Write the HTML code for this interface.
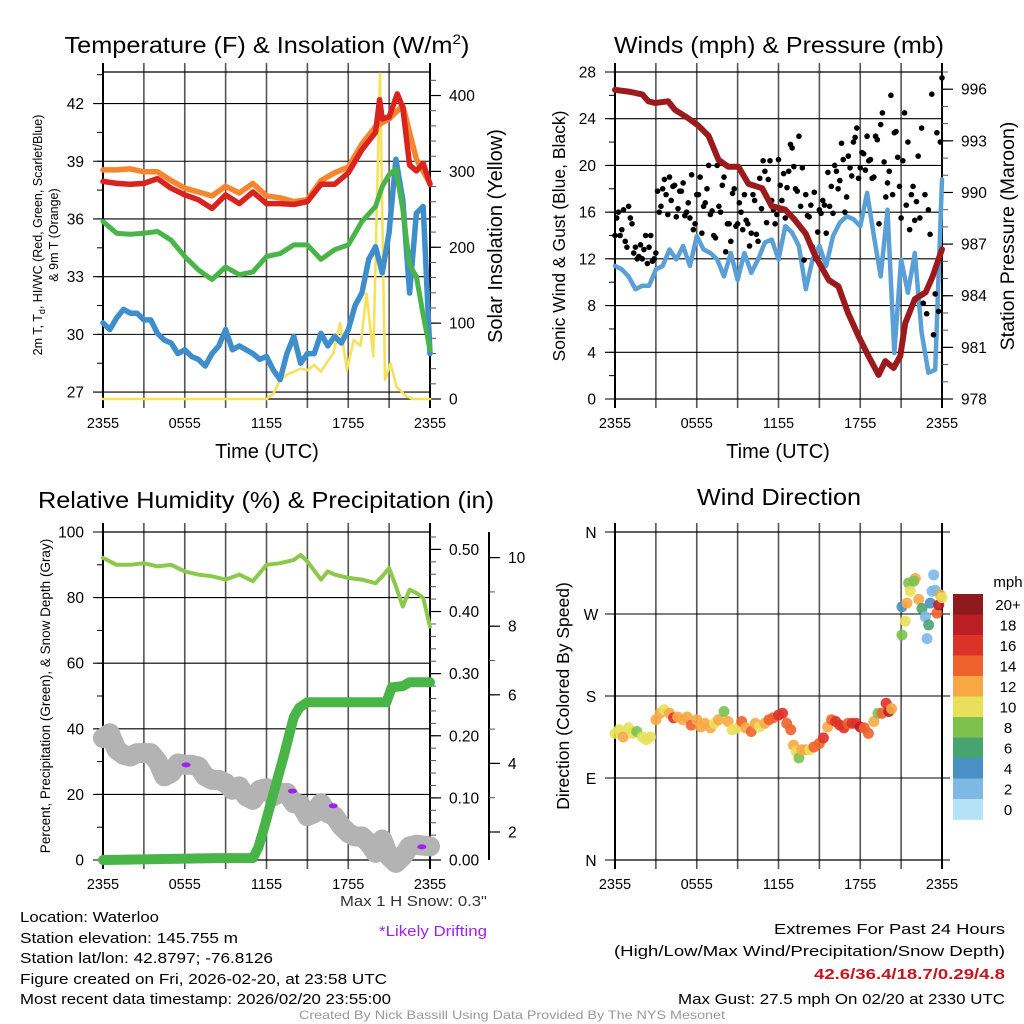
<!DOCTYPE html>
<html><head><meta charset="utf-8"><style>
html,body{margin:0;padding:0;background:#fff;}
svg{display:block;font-family:"Liberation Sans",sans-serif;}
</style></head><body>
<svg id="fig" width="1024" height="1024" viewBox="0 0 1024 1024" xmlns="http://www.w3.org/2000/svg">
<rect width="1024" height="1024" fill="#fff"/>
<g id="layer"></g>
<text x="267" y="53" font-size="23" text-anchor="middle" textLength="405" lengthAdjust="spacingAndGlyphs">Temperature (F) &amp; Insolation (W/m<tspan font-size="14" dy="-9">2</tspan><tspan dy="9">)</tspan></text>
<text x="779" y="53" font-size="23" text-anchor="middle" textLength="330" lengthAdjust="spacingAndGlyphs">Winds (mph) &amp; Pressure (mb)</text>
<text x="266" y="508" font-size="23" text-anchor="middle" textLength="456" lengthAdjust="spacingAndGlyphs">Relative Humidity (%) &amp; Precipitation (in)</text>
<text x="779" y="505" font-size="23" text-anchor="middle" textLength="164" lengthAdjust="spacingAndGlyphs">Wind Direction</text>
<text x="267" y="458" font-size="20" text-anchor="middle">Time (UTC)</text>
<text x="778" y="458" font-size="20" text-anchor="middle">Time (UTC)</text>
<text transform="translate(42,235) rotate(-90)" font-size="12.5" text-anchor="middle">2m T, T<tspan font-size="9" dy="3">d</tspan><tspan dy="-3">, HI/WC (Red, Green, Scarlet/Blue)</tspan></text>
<text transform="translate(58,235) rotate(-90)" font-size="12.5" text-anchor="middle">&amp; 9m T (Orange)</text>
<text transform="translate(502,236) rotate(-90)" font-size="20" text-anchor="middle">Solar Insolation (Yellow)</text>
<text transform="translate(565,236) rotate(-90)" font-size="17.5" text-anchor="middle">Sonic Wind &amp; Gust (Blue, Black)</text>
<text transform="translate(1014,236) rotate(-90)" font-size="19.5" text-anchor="middle">Station Pressure (Maroon)</text>
<text transform="translate(50,696) rotate(-90)" font-size="13.5" text-anchor="middle">Percent, Precipitation (Green), &amp; Snow Depth (Gray)</text>
<text transform="translate(569,696) rotate(-90)" font-size="17.5" text-anchor="middle">Direction (Colored By Speed)</text>
<text x="1008" y="587" font-size="15" text-anchor="middle">mph</text>
<g font-size="15">
<text x="20" y="922" textLength="139" lengthAdjust="spacingAndGlyphs">Location: Waterloo</text>
<text x="20" y="943" textLength="218" lengthAdjust="spacingAndGlyphs">Station elevation: 145.755 m</text>
<text x="20" y="963" textLength="253" lengthAdjust="spacingAndGlyphs">Station lat/lon: 42.8797; -76.8126</text>
<text x="20" y="984" textLength="367" lengthAdjust="spacingAndGlyphs">Figure created on Fri, 2026-02-20, at 23:58 UTC</text>
<text x="20" y="1004" textLength="371" lengthAdjust="spacingAndGlyphs">Most recent data timestamp: 2026/02/20 23:55:00</text>
</g>
<text x="487" y="906" font-size="15" fill="#333" text-anchor="end" textLength="147" lengthAdjust="spacingAndGlyphs">Max 1 H Snow: 0.3"</text>
<text x="487" y="936" font-size="15" fill="#a020f0" text-anchor="end" textLength="108" lengthAdjust="spacingAndGlyphs">*Likely Drifting</text>
<g font-size="15" text-anchor="end">
<text x="1005" y="934" textLength="231" lengthAdjust="spacingAndGlyphs">Extremes For Past 24 Hours</text>
<text x="1005" y="956" textLength="391" lengthAdjust="spacingAndGlyphs">(High/Low/Max Wind/Precipitation/Snow Depth)</text>
<text x="1005" y="979" font-weight="bold" fill="#c8141e" textLength="191" lengthAdjust="spacingAndGlyphs">42.6/36.4/18.7/0.29/4.8</text>
<text x="1005" y="1004" textLength="327" lengthAdjust="spacingAndGlyphs">Max Gust: 27.5 mph On 02/20 at 2330 UTC</text>
</g>
<text x="512" y="1019" font-size="12" fill="#999" text-anchor="middle" textLength="426" lengthAdjust="spacingAndGlyphs">Created By Nick Bassill Using Data Provided By The NYS Mesonet</text>
</svg>
<script>
// ---------- data ----------
const hourTimes=[0,1,2,3,4,5,6,7,8,9,10,11,12,13,14,15,16,17,18,19,20,21,22,23,24];
const temp9m=[38.55,38.55,38.6,38.45,38.45,38.0,37.6,37.4,37.2,37.7,37.35,37.85,37.2,37.1,36.9,37.0,38.0,38.4,38.7,39.9,40.8,41.2,41.9,39.1,37.85];
const tempTimes=[0,1,2,3,4,5,6,7,8,9,10,11,12,13,14,15,16,17,18,19,20,20.3,20.5,21,21.6,22,22.5,23,23.5,24];
const temp2m=[37.95,37.85,37.8,37.85,38.1,37.6,37.25,37.0,36.55,37.25,36.8,37.4,36.8,36.8,36.75,36.9,37.8,37.8,38.4,39.6,40.5,42.2,41.2,41.3,42.5,41.8,38.8,38.5,38.9,37.8];
const dewTimes=[0,1,2,3,4,5,6,7,8,9,10,11,12,13,14,15,16,17,18,19,20,20.5,21,21.5,22,22.5,23,23.5,24];
const dewpoint=[35.87,35.26,35.2,35.26,35.35,34.9,34.05,33.35,32.85,33.5,33.1,33.25,34.05,34.2,34.65,34.65,33.9,34.4,34.65,35.87,36.65,37.7,38.3,38.6,36.5,33.6,33.0,31.0,29.2];
const halfTimes=[0,0.5,1,1.5,2,2.5,3,3.5,4,4.5,5,5.5,6,6.5,7,7.5,8,8.5,9,9.5,10,10.5,11,11.5,12,12.5,13,13.5,14,14.5,15,15.5,16,16.5,17,17.5,18,18.5,19,19.5,20,20.5,21,21.5,22,22.5,23,23.5,24];
const windChill=[30.6,30.25,30.85,31.3,31.1,31.1,30.75,30.75,30.05,29.7,29.55,29.0,29.2,28.85,28.7,28.35,29.0,29.4,30.25,29.2,29.4,29.2,29.0,28.7,28.85,28.15,27.65,29.0,29.9,28.5,29.0,29.0,30.05,29.4,29.9,29.55,30.25,31.5,32.15,33.9,34.55,33.2,35.3,39.1,37.0,32.15,36.3,36.65,29.0];
const solarTimes=[0,12,12.5,13,13.5,14,14.5,15,15.5,16,16.5,16.9,17.4,17.9,18.4,18.9,19.35,19.84,20.33,20.7,21.1,21.55,22.3,22.8,24];
const solar=[0,0,7,25,32,36,40,38,45,36,50,60,100,38,78,70,139,56,429,25,47,16,3,0,0];
const presTimes=[0,1,2,2.45,2.94,3.9,4.4,5.4,6.1,6.86,7.6,8.3,9.06,9.8,10.8,11.5,12.5,13.2,14,14.7,15.7,16.4,17.1,17.9,18.6,19.35,19.84,20.45,20.94,21.3,22,22.8,23.3,24];
const pressure=[995.96,995.86,995.7,995.3,995.2,995.3,994.8,994.3,993.9,993.3,991.9,991.5,991.5,990.5,990.25,989.2,989.0,988.4,987.6,986.3,984.9,984.55,983.0,981.6,980.5,979.4,980.2,979.8,980.5,982.4,983.8,984.2,985.1,986.7];
const sonicWind=[11.4,11.1,10.5,9.4,9.7,9.7,11.1,11.4,12.8,11.95,13.1,11.4,13.95,12.8,12.5,11.95,10.5,12.5,10.2,12.5,10.8,11.95,13.4,13.65,11.95,14.8,14.25,13.1,9.4,11.95,13.1,11.4,13.95,15.1,15.65,15.4,14.8,17.65,13.95,10.5,16.2,3.95,11.95,9.1,12.5,5.7,2.25,2.5,18.8];
const gustA=[14,16,14.5,13.5,16.5,15,13,12.2,12,14,13,11.8,12.5,
16,18,17.5,19,18.2,15.6,17.8,18.5,16,15.5,14.5,17.5,
19,16.5,18,15.8,14,20,16,19,15,13.5,18,15,
16,17.5,15,14.2,17,13.5,16.3,19.5,18.8,17,15,20.5,
17,15.5,19.5,21.5,18,22.5,19.8,17.5,15.6,13,12,16.2,
17,14.2,16.5,15.9,19.5,18.7,20.5,17.3,19.8,22,23.2,19.8,
21,22.5,20.5,19,22.2,23.5,20.3,18.5,26,22.8,20.7,15.5,
24.5,22,17.5,15.3,20.8,23.2,17.5,16.2,26.1,9,7.5,27.5];
const gustB=[15.5,14,16.2,13,15.5,12.5,12,13.2,12.8,11.6,14,12,
17.8,16.5,18.8,15.8,17,18.3,16.3,17.8,15.7,16.8,19.2,15,
17.5,14.2,16.8,20,16.1,13.8,16.5,18.3,12.6,15,17.6,14.8,
16.8,14.5,15.3,13.1,17.5,14.1,18.9,20.4,15.1,20.4,16.2,15.8,
18.3,19.3,18.1,21.8,19.9,17.8,16.5,11.9,15.7,16.6,17.7,14.3,
15.9,16.6,19.4,18.2,20,18,21.9,16,20.8,19.1,22.4,18.9,
21.1,19.6,20.4,18.9,22.5,15,24.5,17.3,19.5,17.5,22.9,18.2,
20.4,16.6,14.5,18.2,16.9,15.5,8.2,7.3,14.1,5.5,22.8,22];
const rhTimes=[0,1,2,3,4,5,6,7,8,9,10,11,12,13,14,14.5,15,16,16.5,17,18,19,20,20.5,21,21.5,22,22.5,23,23.5,24];
const relHum=[92.1,90,90,90.5,89.5,90,88,87,86.5,85.5,87,85,90,90.5,91.5,93,91,85.5,88,87,86,85.5,84.4,86.5,89,83.4,77.3,82.4,81.4,79.9,71.2];
const precipTimes=[0,8.3,11,11.4,11.8,12.3,12.8,13.3,13.7,14.0,14.4,15,20.8,21.2,22,22.5,24];
const precip=[0,0.003,0.003,0.02,0.05,0.09,0.13,0.17,0.205,0.23,0.245,0.254,0.254,0.278,0.28,0.286,0.286];
const snowDepth=[4.74,4.88,4.4,4.25,4.2,4.3,4.3,4.3,4.06,3.62,3.72,4.0,3.96,3.96,3.91,3.62,3.52,3.52,3.43,3.23,3.33,3.04,2.94,3.23,3.28,3.04,3.14,3.14,2.84,2.8,2.46,2.55,2.84,2.55,2.46,2.17,1.97,1.87,1.87,1.68,1.39,1.78,1.29,1.1,1.29,1.58,1.63,1.6,1.58];
const driftTimes=[6.1,13.9,16.9,23.4];
const driftPct=[29,21,16.5,4];
const dirTimes=[0,0.3,0.6,1,1.3,1.6,2,2.3,2.6,3,3.3,3.6,4,4.3,4.6,5,5.3,5.6,6,6.3,6.6,7,7.3,7.6,8,8.3,8.6,9,9.3,9.6,10,10.3,10.6,11,11.3,11.6,12,12.3,12.6,12.9,13.1,13.3,13.5,13.7,14,14.3,14.6,15,15.3,15.6,15.9,16.2,16.5,16.8,17.1,17.4,17.7,18,18.3,18.6,19,19.3,19.6,19.9,20.1,20.3,
21.06,21.06,21.3,21.43,21.55,21.67,22.04,21.92,22.29,22.53,22.78,23.02,22.9,23.14,23.27,23.39,23.51,23.63,23.76,23.88,24];
const dirDeg=[139,143,135,145,139,141,135,132,135,154,161,165,161,156,157,154,157,148,154,146,150,145,150,154,163,152,143,145,152,145,141,150,146,150,154,156,159,161,150,143,126,119,112,121,121,121,124,128,134,146,154,152,148,145,150,150,150,146,145,139,152,161,161,172,163,166,
278,247,262,282,304,295,309,306,286,276,267,258,243,282,295,313,296,271,280,291,288];
const dirSpeed=[10,10,12,11,10,9,10,10,10,13,12,11,12,16,12,12,13,15,12,13,12,12,10,12,9,13,10,11,15,12,15,12,11,13,14,15,16,17,15,14,12,10,8,12,12,11,15,15,16,13,15,17,16,17,15,17,16,18,15,15,12,8,14,16,18,12,
4,8,10,12,8,10,12,8,12,6,2,6,2,4,2,2,2,14,18,12,10];
const cbLabels=["20+","18","16","14","12","10","8","6","4","2","0"];
const cbColors=["#8e1a1c","#bb1e25","#db3327","#ef622b","#f7a845","#e8e05a","#7cc24c","#48a46e","#4a8fc6","#7db9e4","#b5e2f6"];
const xTickLabels=["2355","0555","1155","1755","2355"];
const tempTicks=[27,30,33,36,39,42];
const solarTicks=[0,100,200,300,400];
const windTicks=[0,4,8,12,16,20,24,28];
const presTicks=[978,981,984,987,990,993,996];
const rhTicks=[0,20,40,60,80,100];
const precipTicks=[0,0.1,0.2,0.3,0.4,0.5];
const snowTicks=[2,4,6,8,10];
const dirTicks=["N","E","S","W","N"];

// ---------- helpers ----------
const NS="http://www.w3.org/2000/svg";
const layer=document.getElementById('layer');
function mk(tag,attrs,parent){const e=document.createElementNS(NS,tag);for(const k in attrs)e.setAttribute(k,attrs[k]);(parent||layer).appendChild(e);return e;}
function panel(x0,x1,y0,y1){return {x0,x1,y0,y1,xs:t=>x0+t*(x1-x0)/24};}
const TL=panel(103,430,72,399),TR=panel(615,942,72,399),BL=panel(103,430,532,860),BR=panel(615,942,532,860);
const tempY=v=>399-(v-26.64)*327/17.0;
const solY=v=>399-v*327/431;
const windY=v=>399-v*327/28;
const presY=v=>399-(v-978)*327/19;
const rhY=v=>860-v*3.28;
const precipY=v=>860-v*328/0.528;
const snowY=v=>900.6-v*34.3;
const dirY=d=>860-d*328/360;

function frame(P,name,hTicks,yfun){
  const g=mk('g',{});
  
  
  for(let i=0;i<=8;i++){const x=P.xs(i*3);
    mk('line',{x1:x,x2:x,y1:P.y0-9,y2:P.y1+9,stroke:(i==0||i==8)?'#000':'#555','stroke-width':(i==0||i==8)?2:1.6},g);}
  hTicks.forEach(v=>{const y=yfun(v);mk('line',{x1:P.x0-10,x2:P.x1+(name.startsWith('dir')?8:0),y1:y,y2:y,stroke:'#000','stroke-width':1.1},g);});
  mk('line',{x1:P.x0,x2:P.x1,y1:P.y0,y2:P.y0,stroke:'#000','stroke-width':1.3},g);
  mk('line',{x1:P.x0,x2:P.x1,y1:P.y1,y2:P.y1,stroke:'#000','stroke-width':1.3},g);
  xTickLabels.forEach((s,i)=>{const t=mk('text',{x:P.xs(i*6),y:P.y1+29,'font-size':14.5,'text-anchor':'middle'},g);t.textContent=s;
    
    });
}
function leftMinor(P,min,max,step,yfun){for(let v=min;v<=max+1e-9;v+=step){const y=yfun(v);if(y<P.y0-1||y>P.y1+1)continue;mk('line',{x1:P.x0-6,x2:P.x0,y1:y,y2:y,stroke:'#000','stroke-width':1});}}
function rightAxis(P,ax,ticks,fmt,minMin,minMax,minStep,yfun,name,ytop,ybot){
  mk('line',{x1:ax,x2:ax,y1:ytop,y2:ybot,stroke:'#000','stroke-width':2});
  for(let v=minMin;v<=minMax+1e-9;v+=minStep){const y=yfun(v);if(y<ytop-1||y>ybot+1)continue;mk('line',{x1:ax,x2:ax+6,y1:y,y2:y,stroke:'#555','stroke-width':1});}
  ticks.forEach(v=>{const y=yfun(v);mk('line',{x1:ax,x2:ax+11,y1:y,y2:y,stroke:'#000','stroke-width':1.2});
    const t=mk('text',{x:ax+19,y:y+5.5,'font-size':15.5});t.textContent=fmt(v);
    
    });
}
function leftLabels(P,ticks,yfun,name,fmt){ticks.forEach(v=>{const y=yfun(v);const t=mk('text',{x:P.x0-19,y:y+5.5,'font-size':15.5,'text-anchor':'end'});t.textContent=fmt?fmt(v):v;
  
  });}
function line(P,times,vals,yfun,color,w,name){
  const pts=times.map((t,i)=>P.xs(t).toFixed(1)+','+yfun(vals[i]).toFixed(1)).join(' ');
  const e=mk('polyline',{points:pts,fill:'none',stroke:color,'stroke-width':w,'stroke-linejoin':'round','stroke-linecap':'round'});
  
  
  return e;
}

// ---------- Temperature panel ----------
frame(TL,'temp',tempTicks,tempY);
leftMinor(TL,27,43.5,1.5,tempY);
leftLabels(TL,tempTicks,tempY,'temp-y');
rightAxis(TL,430,solarTicks,v=>v,0,430,20,solY,'solar-y',72,399);
line(TL,solarTimes,solar,solY,'#f7e15a',2.6,'solar-insolation-line');
line(TL,halfTimes,windChill,tempY,'#3e8ecb',5.5,'wind-chill-line');
line(TL,dewTimes,dewpoint,tempY,'#49b548',5,'dewpoint-line');
line(TL,hourTimes,temp9m,tempY,'#f5862e',5.5,'temp-9m-line');
line(TL,tempTimes,temp2m,tempY,'#d8231f',5.5,'temp-2m-line');

// ---------- Wind panel ----------
frame(TR,'wind',windTicks,windY);
leftMinor(TR,0,28,2,windY);
leftLabels(TR,windTicks,windY,'wind-y');
rightAxis(TR,942,presTicks,v=>v,978,997,1,presY,'pressure-y',72,399);
line(TR,halfTimes,sonicWind,windY,'#5a9fd6',4.5,'sonic-wind-line');
gustA.forEach((v,i)=>{const c=mk('circle',{cx:TR.xs(i*0.25),cy:windY(v),r:2.8,fill:'#000'});
  
  });
gustB.forEach((v,i)=>{const c=mk('circle',{cx:TR.xs(0.125+i*0.25),cy:windY(v),r:2.8,fill:'#000'});
  
  });
line(TR,presTimes,pressure,presY,'#9b1b1d',6,'pressure-line');

// ---------- RH panel ----------
frame(BL,'rh',rhTicks,rhY);
leftMinor(BL,0,100,10,rhY);
leftLabels(BL,rhTicks,rhY,'rh-y');
rightAxis(BL,430,precipTicks,v=>v.toFixed(2),0,0.52,0.02,precipY,'precip-y',532,860);
rightAxis(BL,489,snowTicks,v=>v,1,10.7,1,snowY,'snow-y',532,860);
line(BL,halfTimes,snowDepth,snowY,'#b3b3b3',20,'snow-depth-line');
driftTimes.forEach((t,i)=>{const e=mk('ellipse',{cx:BL.xs(t),cy:rhY(driftPct[i]),rx:4.5,ry:2.5,fill:'#a020f0'});
  
  });
line(BL,precipTimes,precip,precipY,'#49b548',10,'precipitation-line');
line(BL,rhTimes,relHum,rhY,'#8cc84b',4,'relative-humidity-line');

// ---------- Direction panel ----------
frame(BR,'dir',[0,90,180,270,360],dirY);
dirTicks.forEach((s,i)=>{const t=mk('text',{x:591,y:dirY(i*90)+6,'font-size':15.5,'text-anchor':'middle'});t.textContent=s;
  
  });
function spColor(s){const idx=Math.min(10,Math.floor(s/2));return cbColors[10-idx];}
dirTimes.forEach((t,i)=>{const c=mk('circle',{cx:BR.xs(t),cy:dirY(dirDeg[i]),r:5.5,fill:spColor(dirSpeed[i]),'fill-opacity':0.9});
  
  });
cbColors.forEach((col,i)=>{const y=594+i*20.5;
  const r=mk('rect',{x:953,y:y,width:30,height:20.8,fill:col});
  
  
  const t=mk('text',{x:1008,y:y+16,'font-size':15,'text-anchor':'middle'});t.textContent=cbLabels[i];
  
  });
</script>
</body></html>
